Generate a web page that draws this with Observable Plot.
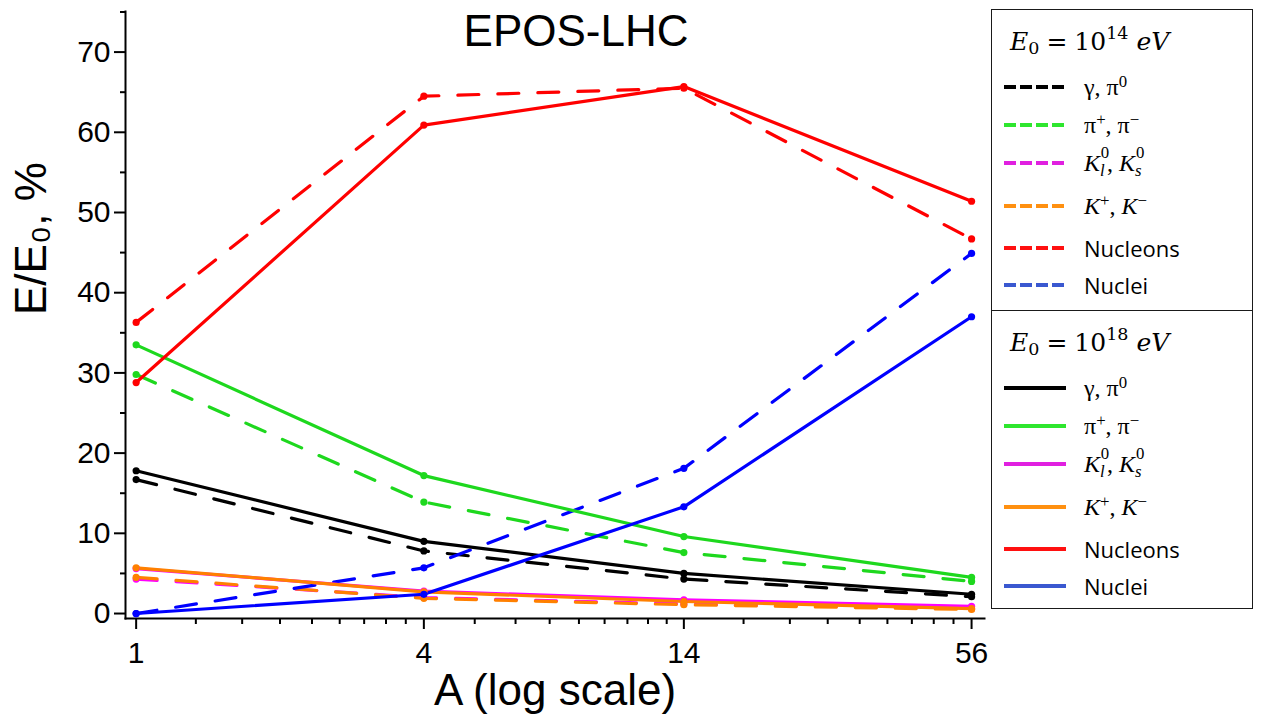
<!DOCTYPE html>
<html><head><meta charset="utf-8">
<script src="https://cdn.jsdelivr.net/npm/d3@7"></script>
<script src="https://cdn.jsdelivr.net/npm/@observablehq/plot@0.6"></script>
<style>
body{margin:0;background:#fff;}
#wrap{position:relative;width:1262px;height:722px;overflow:hidden;background:#fff;}
#wrap > svg{position:absolute;left:0;top:0;}
.box{position:absolute;left:991px;width:262px;border:1.5px solid #1a1a1a;box-sizing:border-box;background:#fff;}
.hdr{position:absolute;left:18px;font-family:"DejaVu Serif","Liberation Serif",serif;font-size:25px;white-space:nowrap;line-height:1;}
.hdr sub{font-size:0.7em;vertical-align:-0.25em;}
.hdr sup{font-size:0.7em;vertical-align:0.6em;}
.hdr .eq{margin:0 0.28em;}
.row{position:absolute;left:0;height:36px;display:flex;align-items:center;white-space:nowrap;}
.row svg{position:static;margin-left:12px;margin-right:18px;}
.m{font-family:"Liberation Serif","DejaVu Serif",serif;font-size:24px;line-height:1;}
.m sup{font-size:0.7em;vertical-align:0.5em;}
.ss{display:inline-block;position:relative;width:0.42em;height:1em;font-size:0.7em;}
.ss .up{position:absolute;left:0.05em;top:-0.55em;}
.ss .dn{position:absolute;left:0;top:0.55em;}
.t{font-family:"Open Sans","Noto Sans",sans-serif;font-size:22px;}
</style></head><body><div id="wrap"></div><script>
// ---- data ----
const massNumbers = [1, 4, 14, 56];
const speciesNames = ["γ, π0", "π+, π−", "Kl0, Ks0", "K+, K−", "Nucleons", "Nuclei"];
const speciesColors = ["#000000", "#1ed81e", "#ff00ff", "#ff8000", "#ff0000", "#0000ff"];
const legendColors = ["#000000", "#2ee62e", "#e020e0", "#ff9010", "#ff1010", "#3a58d0"];
const speciesLabelsHTML = [
  '<span class="m">γ, π<sup>0</sup></span>',
  '<span class="m">π<sup>+</sup>, π<sup>−</sup></span>',
  '<span class="m"><i>K</i><span class="ss"><span class="up">0</span><i class="dn">l</i></span>, <i>K</i><span class="ss"><span class="up">0</span><i class="dn">s</i></span></span>',
  '<span class="m"><i>K</i><sup>+</sup>, <i>K</i><sup>−</sup></span>',
  '<span class="t">Nucleons</span>',
  '<span class="t">Nuclei</span>'
];
// E0 = 1e14 eV (dashed)
const gamma14   = [16.7, 7.8, 4.3, 2.1];
const pion14    = [29.8, 13.9, 7.6, 4.0];
const kaon0_14  = [4.3, 2.0, 1.2, 0.6];
const kaonC_14  = [4.5, 1.9, 1.1, 0.5];
const nucleon14 = [36.3, 64.5, 65.5, 46.7];
const nuclei14  = [0.0, 5.7, 18.1, 44.9];
// E0 = 1e18 eV (solid)
const gamma18   = [17.8, 9.0, 5.0, 2.4];
const pion18    = [33.5, 17.2, 9.6, 4.5];
const kaon0_18  = [5.6, 2.8, 1.7, 0.9];
const kaonC_18  = [5.7, 2.7, 1.5, 0.6];
const nucleon18 = [28.8, 60.9, 65.7, 51.4];
const nuclei18  = [0.0, 2.4, 13.3, 37.0];
const yMajorTicks = [0, 10, 20, 30, 40, 50, 60, 70];
const yMinorTicks = [5, 15, 25, 35, 45, 55, 65, 75];
const energyLabels = ["14", "18"];

// ---- build table ----
const series14 = [gamma14, pion14, kaon0_14, kaonC_14, nucleon14, nuclei14];
const series18 = [gamma18, pion18, kaon0_18, kaonC_18, nucleon18, nuclei18];
function toRows(seriesList, energy) {
  const out = [];
  seriesList.forEach((vals, si) => vals.forEach((v, i) => out.push({
    A: massNumbers[i], value: v, series: speciesNames[si] + " " + energy, color: speciesColors[si]
  })));
  return out;
}
const rows14 = toRows(series14, "1e14");
const rows18 = toRows(series18, "1e18");
// minor x ticks: 8 linear subdivisions between consecutive major ticks (as in the original log axis)
const xMinorTicks = [];
for (let i = 0; i < massNumbers.length - 1; i++) {
  const a = massNumbers[i], b = massNumbers[i + 1];
  for (let k = 1; k <= 8; k++) xMinorTicks.push(a + (b - a) * k / 9);
}

const chart = Plot.plot({
  width: 1262, height: 722,
  marginLeft: 125, marginRight: 278, marginTop: 11, marginBottom: 104,
  style: {fontFamily: '"Liberation Sans", Arial, sans-serif', color: "#000", background: "transparent"},
  x: {type: "log", domain: [0.95, 59.6]},
  y: {domain: [-0.62, 75.06]},
  color: {type: "identity"},
  marks: [
    Plot.axisY({ticks: yMinorTicks, tickSize: 5, tickFormat: () => "", strokeWidth: 2, label: null}),
    Plot.axisY({ticks: yMajorTicks, tickSize: 11, tickPadding: 4, fontSize: 30, strokeWidth: 2, label: null, tickFormat: d => String(d)}),
    Plot.axisX({ticks: xMinorTicks, tickSize: 6, tickFormat: () => "", strokeWidth: 2, label: null}),
    Plot.axisX({ticks: massNumbers, tickSize: 11, tickPadding: 12, fontSize: 30, strokeWidth: 2, label: null, tickFormat: d => String(d)}),
    Plot.frame({anchor: "left", strokeWidth: 2}),
    Plot.frame({anchor: "bottom", strokeWidth: 2}),
    Plot.line(rows14, {x: "A", y: "value", z: "series", stroke: "color", strokeWidth: 3.2, strokeDasharray: "21,19"}),
    Plot.dot(rows14, {x: "A", y: "value", fill: "color", r: 3.6}),
    Plot.line(rows18, {x: "A", y: "value", z: "series", stroke: "color", strokeWidth: 3.2}),
    Plot.dot(rows18, {x: "A", y: "value", fill: "color", r: 3.6}),
    Plot.text(["EPOS-LHC"], {frameAnchor: "top", dx: 21, dy: 34, lineAnchor: "bottom", fontSize: 44}),
    Plot.text(["A (log scale)"], {frameAnchor: "bottom", dy: 86, lineAnchor: "bottom", fontSize: 44}),
    Plot.text(["E/E₀, %"], {frameAnchor: "left", dx: -80, rotate: -90, lineAnchor: "bottom", fontSize: 44})
  ]
});
const wrap = document.getElementById("wrap");
wrap.appendChild(chart);

// ---- legend ----
const rowCenters = [77, 115, 153, 196, 238, 275];
const boxes = [{top: 9, height: 302, dashed: true, exp: energyLabels[0]},
               {top: 310, height: 299, dashed: false, exp: energyLabels[1]}];
boxes.forEach(b => {
  const box = document.createElement("div");
  box.className = "box";
  box.style.top = b.top + "px";
  box.style.height = b.height + "px";
  const hdr = document.createElement("div");
  hdr.className = "hdr";
  hdr.style.top = "15px";
  hdr.innerHTML = '<i>E</i><sub>0</sub><span class="eq">=</span>10<sup>' + b.exp + '</sup> <i>eV</i>';
  box.appendChild(hdr);
  speciesLabelsHTML.forEach((lab, i) => {
    const r = document.createElement("div");
    r.className = "row";
    r.style.top = (rowCenters[i] - 18) + "px";
    const dash = b.dashed ? ' stroke-dasharray="12,4"' : '';
    r.innerHTML = '<svg width="62" height="6"><line x1="0" y1="3" x2="62" y2="3" stroke="' + legendColors[i] + '" stroke-width="4"' + dash + '/></svg>' + lab;
    box.appendChild(r);
  });
  wrap.appendChild(box);
});
</script></body></html>
